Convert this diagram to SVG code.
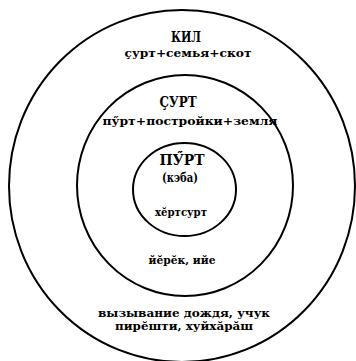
<svg xmlns="http://www.w3.org/2000/svg" width="356" height="361" viewBox="0 0 356 361">
  <style>
    .ring { fill: none; stroke: #000; stroke-width: 2; }
    .title { font-family: "DejaVu Serif", "Liberation Serif", serif; font-size: 14px; font-weight: bold; fill: #000; text-anchor: middle; }
    .label { font-family: "DejaVu Serif", "Liberation Serif", serif; font-size: 11px; font-weight: bold; fill: #000; text-anchor: middle; }
    .sub { font-size: 13px; }
  </style>
  <rect width="356" height="361" fill="#fff"/>

  <!-- outer ring: КИЛ -->
  <g id="kil">
    <ellipse class="ring" cx="182" cy="186" rx="173" ry="176"/>
    <text class="title" x="186" y="42" textLength="30" lengthAdjust="spacingAndGlyphs">КИЛ</text>
    <text class="label" x="188" y="57" textLength="127" lengthAdjust="spacingAndGlyphs">çурт+семья+скот</text>
    <text class="label" x="184" y="317" textLength="172" lengthAdjust="spacingAndGlyphs">вызывание дождя, учук</text>
    <text class="label" x="184" y="330" textLength="138" lengthAdjust="spacingAndGlyphs">пирӗшти, хуйхӑрӑш</text>
  </g>

  <!-- middle ring: ÇУРТ -->
  <g id="surt">
    <ellipse class="ring" cx="185" cy="185.5" rx="108" ry="110.5"/>
    <text class="title" x="178" y="107" textLength="37" lengthAdjust="spacingAndGlyphs">ÇУРТ</text>
    <text class="label" x="190" y="125" textLength="175" lengthAdjust="spacingAndGlyphs">пӳрт+постройки+земля</text>
    <text class="label" x="182" y="264" textLength="67" lengthAdjust="spacingAndGlyphs">йӗрӗк, ийе</text>
  </g>

  <!-- inner ring: ПӲРТ -->
  <g id="purt">
    <ellipse class="ring" cx="184.5" cy="189.5" rx="51.5" ry="46.5"/>
    <text class="title" x="182" y="165" textLength="45" lengthAdjust="spacingAndGlyphs">ПӲРТ</text>
    <text class="label sub" x="180" y="182" textLength="36" lengthAdjust="spacingAndGlyphs">(кэба)</text>
    <text class="label" x="181" y="216" textLength="52" lengthAdjust="spacingAndGlyphs">хӗртсурт</text>
  </g>

  <g id="connectors"/>
</svg>
